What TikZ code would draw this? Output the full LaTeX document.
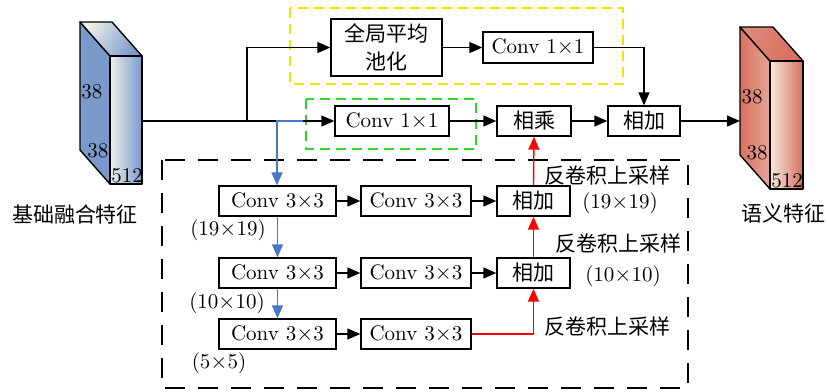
\documentclass[tikz,border=0pt]{standalone}
\usepackage{fontspec}
\newfontfamily\cjk{Noto Sans CJK SC}
\usetikzlibrary{arrows.meta}
\definecolor{blueC}{RGB}{122,154,204}
\definecolor{blueL}{RGB}{236,240,232}
\definecolor{redC}{RGB}{216,112,95}
\definecolor{redL}{RGB}{246,232,220}
\definecolor{ylw}{RGB}{240,230,0}
\definecolor{grn}{RGB}{40,220,40}
\definecolor{blu}{RGB}{70,120,200}
\tikzset{
  box/.style={draw, line width=0.7pt, minimum height=15pt, inner sep=0pt,
    font=\fontsize{10.5}{13}\selectfont},
  lbl/.style={inner sep=0pt, font=\fontsize{10.5}{13}\selectfont},
  arr/.style={line width=0.7pt, -{Triangle[length=6.5pt,width=5.5pt]}},
  face/.style={draw, line width=0.7pt, line join=round},
}
\begin{document}
\begin{tikzpicture}[x=0.5pt,y=-0.5pt]
\useasboundingbox (0,0) rectangle (827,392);
% dashed frames
\draw[ylw, line width=0.6pt, dash pattern=on 5pt off 3pt] (290,8) rectangle (623,84);
\draw[grn, line width=0.6pt, dash pattern=on 5pt off 3pt] (306,99) rectangle (476,149);
\draw[black, line width=0.6pt, dash pattern=on 10pt off 6.5pt] (162,160) rectangle (688,388);
% left cuboid
\fill[blueC] (80,22) -- (110,56) -- (110,184) -- (80,150) -- cycle;
\draw[face] (80,22) -- (110,56) -- (110,184) -- (80,150) -- cycle;
\shade[left color=blueL, right color=blueC, shading angle=60] (80,22) -- (112,22) -- (142,56) -- (110,56) -- cycle;
\draw[face] (80,22) -- (112,22) -- (142,56) -- (110,56) -- cycle;
\shade[left color=blueL, right color=blueC] (110,56) rectangle (142,184);
\draw[face] (110,56) rectangle (142,184);
\node[lbl] (l38a) at (92,92) {38};
\node[lbl] (l38b) at (98,151) {38};
\node[lbl] (l512) at (127,176) {512};
\node[lbl] (lname) at (75,214) {\cjk 基础融合特征};
% right cuboid
\shade[left color=redC, right color=redC!55!redL] (740,27) -- (770,61) -- (770,189) -- (740,155) -- cycle;
\draw[face] (740,27) -- (770,61) -- (770,189) -- (740,155) -- cycle;
\shade[left color=redC!80!redL, right color=redC, shading angle=60] (740,27) -- (773,27) -- (803,61) -- (770,61) -- cycle;
\draw[face] (740,27) -- (773,27) -- (803,61) -- (770,61) -- cycle;
\shade[left color=redL, right color=redC] (770,61) rectangle (803,189);
\draw[face] (770,61) rectangle (803,189);
\node[lbl] (r38a) at (752,97) {38};
\node[lbl] (r38b) at (757,153) {38};
\node[lbl] (r512) at (787,181) {512};
\node[lbl] (rname) at (783,213) {\cjk 语义特征};
% boxes
\node[box, minimum width=55.5pt, minimum height=28.5pt, align=center, font=\fontsize{10.5}{14}\selectfont\cjk] (pool) at (386.5,47.5) {全局平均\\池化};
\node[box, minimum width=55pt, minimum height=15.5pt] (c1top) at (538,47.5) {Conv 1$\times$1};
\node[box, minimum width=57pt] (c1g) at (392,121) {Conv 1$\times$1};
\node[box, minimum width=37pt] (mul) at (534,121) {\cjk 相乘};
\node[box, minimum width=36pt] (add0) at (644,121) {\cjk 相加};
\node[box, minimum width=58.5pt] (r1a) at (277.5,201) {Conv 3$\times$3};
\node[box, minimum width=55pt] (r1b) at (416,201) {Conv 3$\times$3};
\node[box, minimum width=36.5pt] (r1c) at (533.5,201) {\cjk 相加};
\node[box, minimum width=58.5pt] (r2a) at (277.5,273) {Conv 3$\times$3};
\node[box, minimum width=55pt] (r2b) at (416,273) {Conv 3$\times$3};
\node[box, minimum width=36.5pt] (r2c) at (533.5,273) {\cjk 相加};
\node[box, minimum width=58.5pt] (r3a) at (277.5,334) {Conv 3$\times$3};
\node[box, minimum width=55pt] (r3b) at (416,334) {Conv 3$\times$3};
% labels
\node[lbl] (s1) at (228,230) {(19$\times$19)};
\node[lbl] (s2) at (227,303) {(10$\times$10)};
\node[lbl] (s3) at (219,363) {(5$\times$5)};
\node[lbl] (d1) at (608,176) {\cjk 反卷积上采样};
\node[lbl] (d1s) at (620,203) {(19$\times$19)};
\node[lbl] (d2) at (618,244) {\cjk 反卷积上采样};
\node[lbl] (d2s) at (623,276) {(10$\times$10)};
\node[lbl] (d3) at (608,327) {\cjk 反卷积上采样};
% connectors
\coordinate (inL) at (142,121);
\coordinate (outR) at (740,121);
\coordinate (sp1) at (247,121);
\coordinate (sp2) at (277,121);
\coordinate (bst) at (303,121);
\draw[arr] (inL) -- (c1g.west);
\draw[arr] (sp1) |- (pool.west);
\draw[arr] (pool.east |- c1top) -- (c1top.west);
\draw[arr] (c1top.east) -| (add0.north);
\draw[arr] (c1g.east) -- (mul.west);
\draw[arr] (mul.east) -- (add0.west);
\draw[arr] (add0.east) -- (outR);
\draw[arr, blu] (bst) -- (sp2) -- (sp2 |- r1a.north);
\draw[arr, blu] (r1a.south) -- (r2a.north);
\draw[arr, blu] (r2a.south) -- (r3a.north);
\draw[arr] (r1a.east) -- (r1b.west);
\draw[arr] (r2a.east) -- (r2b.west);
\draw[arr] (r3a.east) -- (r3b.west);
\draw[arr] (r1b.east) -- (r1c.west);
\draw[arr] (r2b.east) -- (r2c.west);
\draw[arr, red] (r3b.east) -| (r2c.south);
\draw[arr, red] (r2c.north) -- (r1c.south);
\draw[arr, red] (r1c.north) -- (mul.south);
\end{tikzpicture}
\end{document}
